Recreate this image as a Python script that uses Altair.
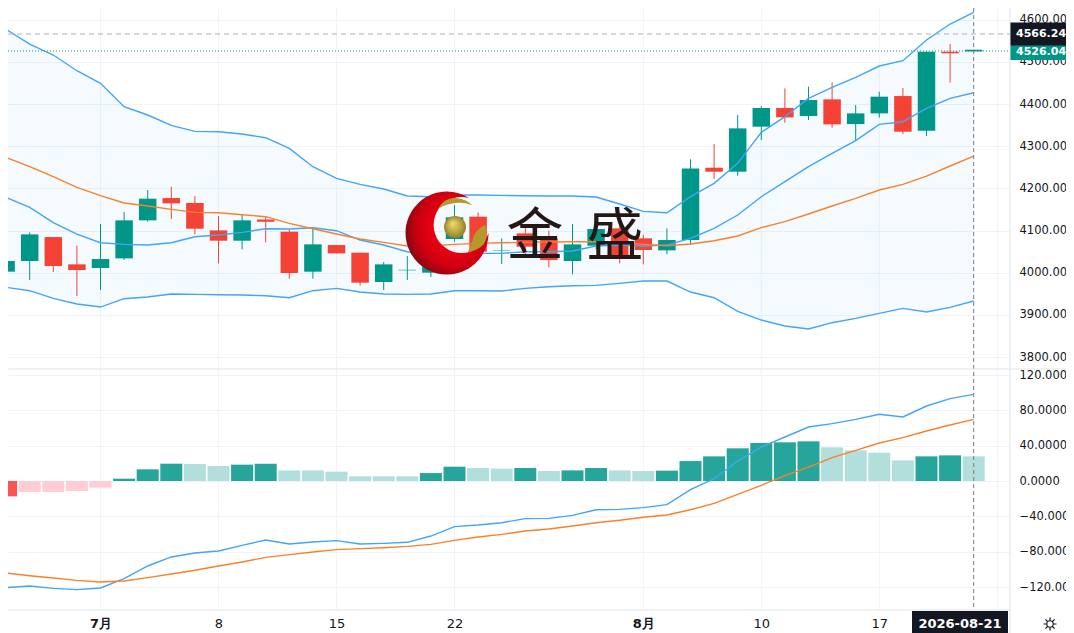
import altair as alt
import pandas as pd

K = list(range(-4, 38))
OPEN = [4002.4,4027.7,4084.6,4019.8,4011.1,4034.0,4124.2,4177.1,4165.3,4100.4,4075.9,4126.5,4097.3,4002.4,4065.6,4047.4,3977.9,4005.6,4000.0,4079.9,4132.9,4052.0,4093.3,4081.5,4027.7,4064.0,4105.2,4081.5,4053.0,4077.5,4249.1,4239.6,4346.4,4390.7,4371.7,4411.2,4352.7,4378.0,4419.1,4336.9,4524.3,4525.0]
CLOSE = [4027.7,4090.9,4015.8,4006.3,4032.4,4124.2,4175.6,4164.5,4104.4,4075.9,4124.2,4121.0,3999.2,4067.2,4045.9,3976.3,4019.8,4006.9,4015.0,4131.3,4049.8,4053.0,4061.7,4030.0,4067.2,4103.6,4041.9,4053.8,4077.5,4247.5,4239.6,4342.4,4390.7,4368.5,4409.6,4351.9,4378.0,4417.6,4334.5,4524.3,4520.4,4529.0]
HIGH = [4044.3,4095.7,4084.6,4064.1,4115.5,4143.9,4196.1,4204.0,4181.9,4134.4,4138.4,4132.9,4102.8,4105.2,4065.6,4047.4,4025.3,4039.5,4020.0,4160.5,4143.0,4081.5,4113.0,4100.0,4115.5,4125.0,4125.0,4090.0,4105.2,4268.9,4305.3,4374.0,4395.4,4437.3,4441.3,4451.6,4397.8,4429.4,4438.1,4524.3,4542.5,4529.0]
LOW = [3965.2,3982.6,4001.6,3944.6,3958.9,4030.0,4121.0,4127.3,4090.9,4022.1,4055.4,4072.0,3985.8,3985.8,4045.9,3969.2,3958.9,3982.6,3990.0,4073.5,4049.8,4020.6,4040.0,4012.7,3996.0,4055.0,4022.0,4019.8,4043.5,4065.6,4222.2,4230.1,4314.7,4355.9,4362.2,4344.0,4312.4,4367.7,4329.0,4324.2,4450.8,4525.0]
BAND_UP = [4577.3,4542.5,4516.4,4479.2,4449.2,4393.8,4374.1,4349.5,4335.3,4334.5,4329.0,4320.3,4295.0,4251.5,4223.8,4209.6,4198.5,4181.9,4180.3,4184.3,4184.3,4183.5,4182.7,4181.9,4181.9,4179.5,4162.9,4145.5,4142.3,4180.3,4211.9,4259.4,4332.9,4370.1,4413.6,4439.7,4463.4,4490.3,4503.0,4552.0,4590.0,4617.6]
BAND_IN = [4178.7,4155.0,4118.6,4091.7,4071.2,4067.2,4065.6,4071.2,4085.4,4089.4,4095.7,4104.4,4103.6,4106.8,4099.6,4077.5,4065.6,4049.8,4041.9,4043.5,4045.9,4045.9,4049.8,4049.8,4051.4,4063.3,4065.6,4063.3,4065.6,4081.5,4105.2,4136.8,4180.3,4215.9,4251.5,4283.1,4313.2,4351.9,4358.2,4389.9,4413.6,4427.0]
BAND_MID = [4273.6,4251.5,4227.8,4202.5,4182.7,4165.3,4158.2,4150.3,4143.1,4142.3,4137.6,4132.9,4117.0,4104.4,4091.7,4079.9,4072.0,4063.3,4064.1,4067.2,4069.6,4071.2,4072.0,4072.8,4073.5,4073.5,4071.2,4067.2,4064.1,4068.0,4075.9,4087.0,4106.8,4121.0,4139.2,4158.2,4176.4,4196.1,4209.6,4229.3,4253.1,4276.8]
BAND_LOW = [3965.2,3957.3,3939.1,3925.7,3918.5,3938.3,3942.3,3949.4,3948.6,3947.8,3947.0,3945.4,3940.7,3957.3,3962.8,3954.1,3949.4,3948.6,3949.4,3957.3,3957.3,3956.5,3962.8,3966.8,3969.2,3969.9,3974.7,3980.2,3980.2,3954.1,3940.7,3908.3,3887.7,3873.5,3866.4,3881.4,3891.7,3903.5,3915.4,3906.7,3917.8,3932.8]
HIST = [-17.4,-12.5,-12.5,-11.3,-7.5,2.6,13.2,19.6,19.2,17.0,18.5,19.6,12.0,12.0,10.6,5.3,5.3,5.3,9.0,16.2,14.7,14.0,14.7,11.3,12.0,14.7,12.0,11.3,11.7,22.6,27.9,37.0,43.0,43.8,44.9,38.1,34.7,32.0,23.4,27.9,29.0,27.9]
HIST_STRONG = [1,0,0,0,0,1,1,1,0,0,1,1,0,0,0,0,0,0,1,1,0,0,1,0,1,1,0,0,1,1,1,1,1,1,1,0,0,0,0,1,1,0]
MACD = [-120.8,-118.9,-121.5,-123.0,-121.1,-110.6,-96.2,-86.0,-81.5,-79.2,-72.8,-66.8,-71.3,-69.0,-67.5,-71.3,-70.6,-69.4,-62.3,-51.7,-49.8,-47.2,-42.6,-42.3,-38.9,-32.5,-32.1,-30.2,-26.8,-9.8,2.6,22.6,38.5,49.8,61.1,64.9,69.8,75.5,72.5,84.9,93.2,98.1]
SIGNAL = [-104.2,-107.2,-109.8,-112.5,-114.3,-113.2,-109.4,-105.3,-101.1,-96.2,-91.7,-86.4,-83.4,-80.4,-77.7,-76.6,-75.5,-74.0,-71.7,-67.2,-63.4,-60.4,-56.6,-54.3,-50.9,-47.2,-44.5,-41.1,-38.5,-32.5,-25.3,-15.1,-4.9,6.0,15.8,26.4,34.7,43.0,49.1,56.6,63.4,69.8]
TICK_K = [0, 5, 10, 15, 23, 28, 33, 38]
TICK_TEXT = ["7月", "8", "15", "22", "8月", "10", "17", ""]
PRICE_TICKS = [3800, 3900, 4000, 4100, 4200, 4300, 4400, 4500, 4600]
OSC_TICKS = [-120, -80, -40, 0, 40, 80, 120]
LAST_PRICE = 4566.24
CUR_PRICE = 4526.04
LAST_K = 37
DATE_LABEL = "2026-08-21"
WATERMARK = ["金", "盛"]

TEAL, RED = "#009688", "#f44336"
BLUE, ORANGE = "#42a5f5", "#f9812a"
INK, GRID, EDGE = "#131722", "#f0f3fa", "#e0e3eb"
FONT = "DejaVu Sans"
W, H, RIGHT, BOTTOM = 1002, 602, 56, 23

df = pd.DataFrame(dict(k=K, o=OPEN, c=CLOSE, h=HIGH, l=LOW, up=BAND_UP, inner=BAND_IN,
                       mid=BAND_MID, low=BAND_LOW, hist=HIST, macd=MACD, sig=SIGNAL))
df["zero"] = 0
df["col"] = [TEAL if c >= o else RED for o, c in zip(OPEN, CLOSE)]
df["hcol"] = [("#26a69a" if s else "#b2dfdb") if v >= 0 else ("#ff5252" if s else "#ffcdd2")
              for v, s in zip(HIST, HIST_STRONG)]
one = pd.DataFrame({"n": [0]})
ticks_df = pd.DataFrame({"k": TICK_K})

label_map = "{" + ",".join(f"'{k}':'{t}'" for k, t in zip(TICK_K, TICK_TEXT)) + "}"
x_axis = alt.Axis(values=TICK_K, labelExpr=f"{label_map}[datum.value]", title=None, ticks=False,
                  grid=False, domain=False, labelPadding=7, labelFontSize=13,
                  labelFont=FONT, labelColor=INK, labelOverlap=False, labelFlush=False,
                  labelFontWeight={"condition": {"test": "datum.value == 0 || datum.value == 23", "value": "bold"}, "value": "normal"})
X = alt.X("k:Q", axis=x_axis, scale=alt.Scale(domain=[-92.5 / 23.6, (W - 92.5) / 23.6], nice=False, zero=False, padding=0))

py_scale = alt.Scale(domain=[3800, 4600], range=[349, 11.8], nice=False, zero=False)
py_axis = alt.Axis(orient="right", values=PRICE_TICKS, format=".2f", title=None, ticks=False, domain=False,
                   grid=True, gridColor=GRID, labelPadding=9, labelFontSize=11.5, labelFont=FONT,
                   labelColor=INK, labelOverlap=False, labelBound=False, labelFlush=False)
def PY(f):
    return alt.Y(f, scale=py_scale, axis=py_axis)

oy_scale = alt.Scale(domain=[-120, 120], range=[579, 367], nice=False, zero=False)
oy_axis = alt.Axis(orient="right", values=OSC_TICKS, format=".4f", title=None, ticks=False, domain=False,
                   grid=True, gridColor=GRID, labelPadding=9, labelFontSize=11.5, labelFont=FONT,
                   labelColor=INK, labelOverlap=False, labelBound=False, labelFlush=False)
def OY(f):
    return alt.Y(f, scale=oy_scale, axis=oy_axis)

base = alt.Chart(df)
main_layers = [
    alt.Chart(ticks_df).mark_rule(color=GRID, strokeWidth=1).encode(x=X),
    base.mark_area(color="#2196f3", opacity=0.05).encode(x=X, y=PY("up:Q"), y2="low:Q"),
    base.mark_rule(strokeWidth=1).encode(x=X, y=PY("l:Q"), y2="h:Q", color=alt.Color("col:N", scale=None)),
    base.mark_bar(width=17.5).encode(x=X, y=PY("o:Q"), y2="c:Q", color=alt.Color("col:N", scale=None)),
]
for col, stroke in (("up", BLUE), ("inner", BLUE), ("mid", ORANGE), ("low", BLUE)):
    main_layers.append(base.mark_line(color=stroke, strokeWidth=1.4).encode(x=X, y=PY(f"{col}:Q")))

last = alt.Chart(pd.DataFrame({"p": [LAST_PRICE], "t": [f"{LAST_PRICE:.2f}"]}))
cur = alt.Chart(pd.DataFrame({"p": [CUR_PRICE], "t": [f"{CUR_PRICE:.2f}"]}))
main_layers += [
    last.mark_rule(color="#aeb1ba", strokeDash=[5, 4], strokeWidth=1).encode(x=alt.value(0), x2=alt.value(W), y=PY("p:Q")),
    cur.mark_rule(color=TEAL, strokeDash=[1, 2], strokeWidth=1).encode(x=alt.value(0), x2=alt.value(W), y=PY("p:Q")),
    cur.mark_rect(color=TEAL, height=18).encode(x=alt.value(W), x2=alt.value(W + RIGHT), y=PY("p:Q")),
    last.mark_rect(color=INK, height=23).encode(x=alt.value(W), x2=alt.value(W + RIGHT), y=PY("p:Q")),
    last.mark_text(color="white", align="left", font=FONT, fontSize=11, fontWeight="bold").encode(x=alt.value(W + 6), y=PY("p:Q"), text="t:N"),
    cur.mark_text(color="white", align="left", font=FONT, fontSize=11, fontWeight="bold", dy=1).encode(x=alt.value(W + 6), y=PY("p:Q"), text="t:N"),
]

# logo
logo = alt.Chart(one)
crescent = "M0.54,-0.84 A1,1 0 1 0 1,0 A0.675,0.675 0 1 1 0.54,-0.84 Z"
leaf_top = "M-0.22,-0.58 Q-0.05,-0.88 0.25,-0.84 Q0.5,-0.8 0.6,-0.67 Q0.4,-0.75 0.2,-0.72 Q0,-0.7 -0.22,-0.58 Z"
leaf_low = "M0.92,-0.2 Q0.66,-0.05 0.63,0.12 Q0.6,0.3 0.5,0.46 Q0.75,0.42 0.88,0.28 Q1,0.1 0.92,-0.2 Z"
pos = dict(x=alt.value(439), y=alt.value(225))
red_grad = {"gradient": "radial", "x1": 0.6, "y1": 0.45, "r1": 0.3, "x2": 0.6, "y2": 0.45, "r2": 0.62,
            "stops": [{"offset": 0, "color": "#e60012"}, {"offset": 0.55, "color": "#c80010"}, {"offset": 1, "color": "#7d0a12"}]}
gold_grad = {"gradient": "radial", "x1": 0.4, "y1": 0.35, "r1": 0.05, "x2": 0.5, "y2": 0.5, "r2": 0.55,
             "stops": [{"offset": 0, "color": "#e8d668"}, {"offset": 1, "color": "#8f7a1e"}]}
leaf_col = "#b59a2b"
SZ = 83 ** 2
main_layers += [
    logo.mark_point(shape=crescent, size=SZ, filled=True, fill=red_grad, stroke=None, opacity=1).encode(**pos),
    logo.mark_point(shape=leaf_top, size=SZ, filled=True, fill=leaf_col, stroke=None, opacity=1).encode(**pos),
    logo.mark_point(shape=leaf_low, size=SZ, filled=True, fill=leaf_col, stroke=None, opacity=1).encode(**pos),
    logo.mark_point(shape="circle", size=484, filled=True, fill=gold_grad, stroke=None, opacity=1).encode(x=alt.value(447), y=alt.value(219)),
]
for ch, px in zip(WATERMARK, (527, 607)):
    main_layers.append(
        alt.Chart(pd.DataFrame({"t": [ch]})).mark_text(font="Noto Sans CJK SC", fontSize=57, color="#231815", fontWeight="normal")
        .encode(x=alt.value(px), y=alt.value(230), text="t:N"))

osc_layers = [
    base.mark_bar(width=22).encode(x=X, y=OY("hist:Q"), y2="zero:Q", color=alt.Color("hcol:N", scale=None)),
    base.mark_line(color=BLUE, strokeWidth=1.4).encode(x=X, y=OY("macd:Q")),
    base.mark_line(color=ORANGE, strokeWidth=1.4).encode(x=X, y=OY("sig:Q")),
]

frame = alt.Chart(pd.DataFrame({"k": [LAST_K], "t": [DATE_LABEL]}))
sun = "M0.5,0 A0.5,0.5 0 1 1 -0.5,0 A0.5,0.5 0 1 1 0.5,0 Z M0,-1 L0,-0.5 M0,0.5 L0,1 M-1,0 L-0.5,0 M0.5,0 L1,0 M-0.7,-0.7 L-0.35,-0.35 M0.35,0.35 L0.7,0.7 M-0.7,0.7 L-0.35,0.35 M0.35,-0.35 L0.7,-0.7"
overlay_layers = [
    frame.mark_rule(color="#787b86", strokeDash=[4, 3], strokeWidth=1).encode(x=X),
    logo.mark_rule(color=EDGE, strokeWidth=1).encode(x=alt.value(0), x2=alt.value(W + RIGHT), y=alt.value(361)),
    logo.mark_rule(color=EDGE, strokeWidth=1).encode(x=alt.value(0), x2=alt.value(W), y=alt.value(H)),
    logo.mark_rule(color=EDGE, strokeWidth=1).encode(x=alt.value(W), y=alt.value(0), y2=alt.value(H + BOTTOM)),
    frame.mark_rect(color=INK).encode(x=alt.value(904), x2=alt.value(1000), y=alt.value(H + 1), y2=alt.value(H + BOTTOM)),
    frame.mark_text(color="white", font=FONT, fontSize=13, fontWeight="bold").encode(x=alt.value(952), y=alt.value(H + 14), text="t:N"),
    logo.mark_point(shape=sun, size=169, stroke=INK, strokeWidth=1.2, filled=False, opacity=1).encode(x=alt.value(1042), y=alt.value(H + 14)),
]

chart = (
    alt.layer(alt.layer(*main_layers), alt.layer(*osc_layers), alt.layer(*overlay_layers))
    .resolve_scale(y="independent")
    .properties(width=W, height=H, background="white",
                padding={"left": 0, "top": 0, "right": RIGHT, "bottom": BOTTOM},
                autosize=alt.AutoSizeParams(type="none"))
    .configure_view(stroke=None)
)
chart.save("out.html", embed_options={"renderer": "svg", "actions": False})
